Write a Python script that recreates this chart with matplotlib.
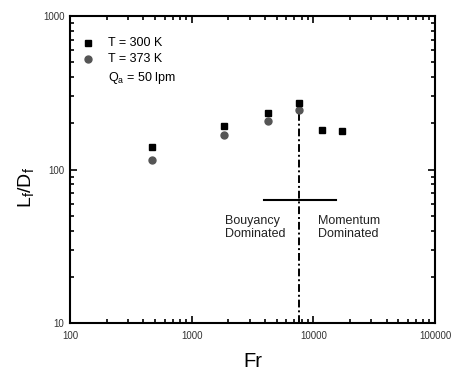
import matplotlib
matplotlib.use("Agg")
import matplotlib.pyplot as plt
from matplotlib.ticker import LogLocator, NullFormatter, FixedLocator, FixedFormatter

plt.rcParams["font.family"] = ["Liberation Sans Narrow", "Liberation Sans", "DejaVu Sans"]

# data
fr_300 = [475, 1840, 4240, 7600, 11800, 17300]
ld_300 = [140, 191, 234, 270, 180, 179]
fr_373 = [475, 1840, 4240, 7600]
ld_373 = [116, 167, 207, 244]

fr_transition = 7600
bar_fr = [3930, 15250]
bar_ld = 63

xticks = [100, 1000, 10000, 100000]
xtick_labels = ["100", "1000", "10000", "100000"]
yticks = [10, 100, 1000]
ytick_labels = ["10", "100", "1000"]

fig = plt.figure(figsize=(4.53, 3.72), dpi=100)
ax = fig.add_axes([0.1545, 0.1317, 0.8058, 0.8253])

ax.plot(fr_300, ld_300, "s", color="black", markersize=5, zorder=3)
ax.plot(fr_373, ld_373, "o", color="#555555", markersize=5, zorder=2)

ax.plot([fr_transition, fr_transition], [10, 255], color="black", lw=1.4,
        linestyle=(0, (4, 1.5, 1, 1.5)), zorder=1)
ax.plot(bar_fr, [bar_ld, bar_ld], color="black", lw=1.5)

ax.set_xscale("log")
ax.set_yscale("log")
ax.set_xlim(100, 100000)
ax.set_ylim(10, 1000)

ax.xaxis.set_major_locator(FixedLocator(xticks))
ax.xaxis.set_major_formatter(FixedFormatter(xtick_labels))
ax.yaxis.set_major_locator(FixedLocator(yticks))
ax.yaxis.set_major_formatter(FixedFormatter(ytick_labels))
for axis in (ax.xaxis, ax.yaxis):
    axis.set_minor_locator(LogLocator(base=10, subs=range(2, 10)))
    axis.set_minor_formatter(NullFormatter())

ax.tick_params(which="both", direction="in", top=True, right=True, width=1.2,
               labelsize=7, labelcolor="#333333")
ax.tick_params(which="major", length=5)
ax.tick_params(axis="x", which="major", pad=6)
ax.tick_params(axis="y", which="major", pad=4)
ax.tick_params(which="minor", length=3)
for s in ax.spines.values():
    s.set_linewidth(1.5)

ax.set_xlabel("Fr", fontsize=14.5)
ax.set_ylabel(r"L$_\mathregular{f}$/D$_\mathregular{f}$", fontsize=14)
ax.xaxis.set_label_coords(0.5, -0.095)
ax.yaxis.set_label_coords(-0.09, 0.44)

# legend drawn by hand like the original
ax.plot([140], [665], "s", color="black", markersize=5)
ax.plot([140], [525], "o", color="#555555", markersize=5)
ax.text(205, 665, "T = 300 K", fontsize=9, va="center")
ax.text(205, 525, "T = 373 K", fontsize=9, va="center")
ax.text(205, 392, r"Q$_\mathregular{a}$ = 50 lpm", fontsize=9, va="center")

ax.text(1880, 42, "Bouyancy\nDominated", fontsize=9, va="center", ha="left",
        linespacing=1.15, color="#222222")
ax.text(10900, 42, "Momentum\nDominated", fontsize=9, va="center", ha="left",
        linespacing=1.15, color="#222222")

fig.savefig("out.png", dpi=100)
